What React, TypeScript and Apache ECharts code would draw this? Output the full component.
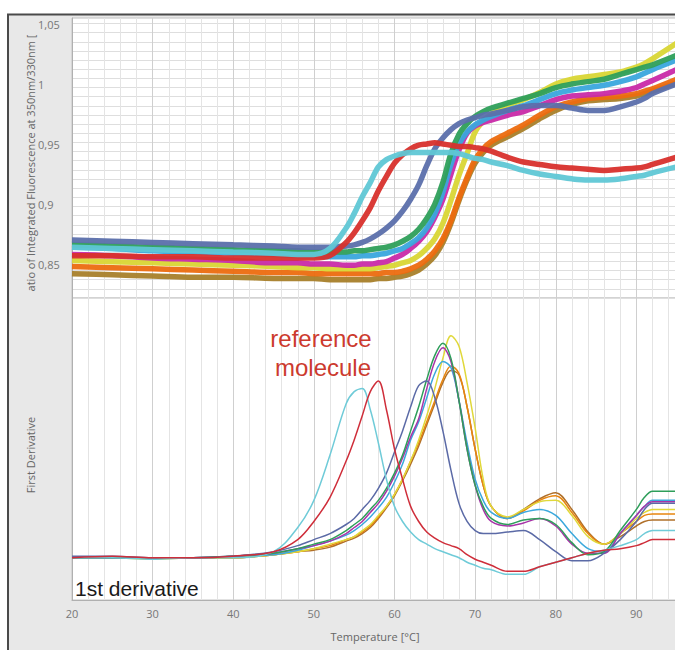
import React, { useEffect, useRef } from 'react';
import * as echarts from 'echarts';

// Temperatures (°C) shared by both panels
const temps = [20, 25, 30, 35, 40, 45, 48, 50, 52, 54, 55, 56, 57, 58, 59, 60, 61, 62, 63, 64, 65, 66, 67, 68, 69, 70, 71, 72, 74, 76, 78, 80, 82, 84, 86, 88, 90, 91, 92, 95];

// Ratio 350/330 (top panel)
const ratioCyan = [0.864, 0.863, 0.862, 0.861, 0.860, 0.859, 0.858, 0.858, 0.863, 0.880, 0.892, 0.906, 0.918, 0.931, 0.937, 0.940, 0.942, 0.943, 0.943, 0.943, 0.943, 0.943, 0.943, 0.942, 0.940, 0.938, 0.937, 0.935, 0.932, 0.928, 0.925, 0.923, 0.921, 0.920, 0.920, 0.921, 0.923, 0.924, 0.926, 0.931];
const ratioRed = [0.857, 0.857, 0.856, 0.856, 0.855, 0.855, 0.855, 0.855, 0.857, 0.868, 0.876, 0.886, 0.897, 0.911, 0.923, 0.934, 0.941, 0.946, 0.949, 0.950, 0.951, 0.950, 0.949, 0.948, 0.948, 0.947, 0.946, 0.944, 0.939, 0.935, 0.933, 0.931, 0.930, 0.929, 0.928, 0.929, 0.930, 0.931, 0.933, 0.939];
const ratioBlueGray = [0.870, 0.869, 0.868, 0.867, 0.866, 0.865, 0.864, 0.864, 0.864, 0.865, 0.866, 0.868, 0.871, 0.875, 0.880, 0.886, 0.894, 0.904, 0.916, 0.932, 0.946, 0.955, 0.962, 0.967, 0.970, 0.972, 0.974, 0.975, 0.978, 0.981, 0.982, 0.982, 0.980, 0.978, 0.978, 0.981, 0.985, 0.988, 0.992, 1.000];
const ratioGreen = [0.866, 0.865, 0.864, 0.863, 0.862, 0.861, 0.861, 0.860, 0.860, 0.860, 0.861, 0.861, 0.862, 0.863, 0.864, 0.866, 0.869, 0.873, 0.879, 0.888, 0.900, 0.918, 0.942, 0.958, 0.967, 0.973, 0.977, 0.980, 0.984, 0.988, 0.992, 0.997, 1.000, 1.002, 1.004, 1.008, 1.012, 1.014, 1.016, 1.024];
const ratioLightBlue = [0.864, 0.863, 0.861, 0.860, 0.859, 0.858, 0.857, 0.857, 0.856, 0.856, 0.856, 0.857, 0.857, 0.858, 0.859, 0.861, 0.863, 0.867, 0.872, 0.880, 0.892, 0.910, 0.933, 0.950, 0.960, 0.966, 0.970, 0.973, 0.978, 0.982, 0.987, 0.992, 0.995, 0.997, 0.999, 1.002, 1.006, 1.009, 1.012, 1.020];
const ratioMagenta = [0.858, 0.857, 0.855, 0.854, 0.853, 0.851, 0.851, 0.850, 0.850, 0.849, 0.849, 0.850, 0.850, 0.851, 0.852, 0.855, 0.858, 0.863, 0.869, 0.877, 0.889, 0.904, 0.925, 0.945, 0.959, 0.965, 0.968, 0.970, 0.974, 0.977, 0.982, 0.987, 0.990, 0.991, 0.992, 0.994, 0.997, 1.000, 1.003, 1.012];
const ratioYellow = [0.853, 0.852, 0.851, 0.850, 0.849, 0.848, 0.847, 0.847, 0.846, 0.846, 0.846, 0.846, 0.846, 0.847, 0.848, 0.849, 0.851, 0.853, 0.857, 0.863, 0.871, 0.884, 0.903, 0.924, 0.942, 0.960, 0.969, 0.975, 0.982, 0.987, 0.993, 1.000, 1.004, 1.006, 1.008, 1.010, 1.014, 1.017, 1.021, 1.034];
const ratioOrange = [0.848, 0.847, 0.846, 0.845, 0.844, 0.843, 0.843, 0.842, 0.842, 0.842, 0.842, 0.842, 0.842, 0.842, 0.843, 0.843, 0.844, 0.846, 0.849, 0.854, 0.861, 0.871, 0.886, 0.905, 0.922, 0.937, 0.946, 0.952, 0.959, 0.966, 0.974, 0.981, 0.985, 0.988, 0.989, 0.990, 0.992, 0.994, 0.996, 1.004];
const ratioBrown = [0.842, 0.841, 0.840, 0.839, 0.839, 0.838, 0.838, 0.838, 0.837, 0.837, 0.837, 0.837, 0.837, 0.838, 0.838, 0.839, 0.840, 0.842, 0.845, 0.850, 0.857, 0.868, 0.884, 0.903, 0.920, 0.934, 0.943, 0.949, 0.956, 0.963, 0.971, 0.978, 0.983, 0.986, 0.987, 0.988, 0.990, 0.992, 0.994, 1.001];

// First derivative (bottom panel, arbitrary units)
const derivCyan = [14, 14, 13.5, 14, 14, 16, 24, 33, 48, 65, 69, 70, 63, 52, 40, 31, 26, 22.5, 20, 18.5, 17, 16, 15, 14, 12.5, 11.5, 10.5, 10, 8.5, 8.5, 11, 12.5, 14, 15.5, 16.5, 18, 20, 22, 23, 23];
const derivRed = [14, 14.5, 14, 14, 14.5, 16, 20, 26, 34, 46, 53, 61, 69, 72.5, 63, 50, 40, 31, 26, 22.5, 20.5, 19, 18, 17, 15, 13.5, 12.5, 11.5, 9.5, 9.5, 11, 12.5, 14, 15.5, 16.5, 17, 18, 19, 20, 20];
const derivBlueGray = [14.5, 14.5, 14, 14, 14.5, 16, 18, 20, 22, 25, 27, 30, 33, 37, 42, 49, 56, 64, 71, 72.5, 67, 56, 43, 32, 26, 23, 22, 22, 22.5, 23, 20, 16, 13, 13, 15.5, 20, 26, 30, 32, 32];
const derivGreen = [14, 14, 14, 14, 14.5, 15.5, 17, 18.5, 20, 23, 25, 27, 30, 33, 37, 42, 48, 56, 64, 73, 81, 85, 80, 66, 50, 38, 31, 27, 25, 26.5, 27, 25, 19, 15, 16, 23, 30, 34, 36, 36];
const derivLightBlue = [14, 14, 14, 14, 14.5, 15, 16.5, 18, 19.5, 21.5, 23, 25, 27.5, 30.5, 34, 39, 45, 53, 59, 67, 75, 79, 77, 66, 52, 40, 33, 29, 27, 29, 30, 28, 22, 17, 16, 22, 28, 31, 33, 33];
const derivMagenta = [14, 14, 14, 14, 14.5, 15.5, 17, 18, 19.5, 22, 24, 26, 29, 32, 36, 41, 47, 54, 60, 70, 79, 83.5, 79, 66, 50, 38, 30, 26, 24.5, 25.5, 27, 24.5, 18.5, 15.5, 15.5, 22, 28, 31, 32.5, 32.5];
const derivYellow = [14, 14, 13.5, 14, 14, 15, 16, 17, 18.5, 20, 21, 23, 25, 28, 31, 35, 40, 46, 53, 61, 70, 80, 87.5, 84, 72, 57, 40, 31, 27.5, 30, 32.5, 33, 28, 21, 18.5, 22, 27, 29, 30, 30];
const derivOrange = [14, 14, 14, 14, 14, 15, 16, 17, 18, 20, 21, 22.5, 24.5, 27.5, 31, 35, 40, 46, 52, 59, 66, 73, 77.5, 75, 64, 50, 38, 31, 27, 29.5, 33, 34.5, 29, 22, 18.5, 22, 26, 28, 28.5, 28.5];
const derivBrown = [14, 14, 14, 14, 14, 15, 16, 16.5, 17.5, 19.5, 20.5, 22, 24, 27, 30.5, 34.5, 39.5, 45, 51, 58, 65, 72, 76, 74.5, 64, 50, 38, 31, 27, 30, 33.5, 35.5, 30, 22.5, 18.5, 21, 24.5, 26, 26.5, 26.5];

const xTicks = [20, 30, 40, 50, 60, 70, 80, 90];

const topSeries = [
  { name: 'brown', data: ratioBrown, color: '#a8802a' },
  { name: 'orange', data: ratioOrange, color: '#ec6b0f' },
  { name: 'yellow', data: ratioYellow, color: '#d9d635' },
  { name: 'magenta', data: ratioMagenta, color: '#c92aa8' },
  { name: 'lightBlue', data: ratioLightBlue, color: '#3aa6dd' },
  { name: 'green', data: ratioGreen, color: '#2e9f5a' },
  { name: 'blueGray', data: ratioBlueGray, color: '#5b6fab' },
  { name: 'red', data: ratioRed, color: '#d8302c' },
  { name: 'cyan', data: ratioCyan, color: '#5fc7d5' },
];

const bottomSeries = [
  { name: 'brown', data: derivBrown, color: '#b0702a' },
  { name: 'orange', data: derivOrange, color: '#e8860f' },
  { name: 'yellow', data: derivYellow, color: '#e0d83a' },
  { name: 'lightBlue', data: derivLightBlue, color: '#3ba8dc' },
  { name: 'magenta', data: derivMagenta, color: '#a834a8' },
  { name: 'green', data: derivGreen, color: '#2e9e5a' },
  { name: 'blueGray', data: derivBlueGray, color: '#5b6aa6' },
  { name: 'cyan', data: derivCyan, color: '#6fcbd8' },
  { name: 'red', data: derivRed, color: '#cf2e3a' },
];

export default function App() {
  const ref = useRef<HTMLDivElement>(null);
  useEffect(() => {
    const chart = echarts.init(ref.current as HTMLDivElement, null, { renderer: 'svg' });
    const labelFont = { color: '#777', fontSize: 11, fontFamily: '"Open Sans", sans-serif' };
    const vGrid = {
      splitLine: { show: true, lineStyle: { color: '#cfcfcf', width: 1 } },
      minorTick: { show: false, splitNumber: 5 },
      minorSplitLine: { show: true, lineStyle: { color: '#e4e4e4', width: 1 } },
    };
    const series: any[] = [];
    topSeries.forEach((s) => {
      series.push({
        type: 'line', name: 'r-' + s.name, xAxisIndex: 0, yAxisIndex: 0,
        data: temps.map((t, i) => [t, s.data[i]]),
        showSymbol: false, smooth: 0.35,
        lineStyle: { width: 5.5, color: s.color, opacity: 0.95 },
      });
    });
    bottomSeries.forEach((s) => {
      series.push({
        type: 'line', name: 'd-' + s.name, xAxisIndex: 1, yAxisIndex: 2,
        data: temps.map((t, i) => [t, s.data[i]]),
        showSymbol: false, smooth: 0.35,
        lineStyle: { width: 1.5, color: s.color },
      });
    });
    const option: any = {
      animation: false,
      backgroundColor: '#e8e8e8',
      grid: [
        { left: 72, top: 18, width: 645, height: 280, show: true, backgroundColor: '#ffffff', borderColor: '#c4c4c4', borderWidth: 1 },
        { left: 72, top: 298, width: 645, height: 302, show: true, backgroundColor: '#ffffff', borderColor: '#c4c4c4', borderWidth: 1 },
      ],
      xAxis: [
        {
          gridIndex: 0, type: 'value', min: 20, max: 100, interval: 10,
          axisLabel: { show: false }, axisLine: { show: false }, axisTick: { show: false }, ...vGrid,
        },
        {
          gridIndex: 1, type: 'value', min: 20, max: 100, interval: 10,
          axisLabel: { ...labelFont, margin: 8, formatter: (v: number) => (xTicks.includes(v) ? String(v) : '') },
          axisLine: { show: true, lineStyle: { color: '#b0b0b0' } }, axisTick: { show: false }, ...vGrid,
        },
      ],
      yAxis: [
        {
          gridIndex: 0, type: 'value', min: 0.8217, max: 1.055, splitNumber: 5,
          axisLine: { show: true, lineStyle: { color: '#b0b0b0' } }, axisTick: { show: false },
          splitLine: { show: false },
          axisLabel: {
            ...labelFont, align: 'left', margin: 34,
            formatter: (v: number) => {
              const r = Math.round(v * 20);
              if (Math.abs(v * 20 - r) > 1e-6) return '';
              return String(+(r / 20).toFixed(2)).replace('.', ',');
            },
          },
        },
        {
          gridIndex: 0, type: 'value', min: 0, max: 30.6, interval: 1, position: 'left',
          axisLine: { show: false }, axisTick: { show: false }, axisLabel: { show: false },
          splitLine: { show: true, lineStyle: { color: '#dedede', width: 1 } },
        },
        {
          gridIndex: 1, type: 'value', min: 0, max: 100,
          axisLine: { show: true, lineStyle: { color: '#b0b0b0' } }, axisTick: { show: false },
          axisLabel: { show: false }, splitLine: { show: false },
        },
      ],
      series,
      graphic: [
        { type: 'rect', z: 50, shape: { x: 0, y: 0, width: 720, height: 14 }, style: { fill: '#ffffff' } },
        { type: 'rect', z: 50, shape: { x: 0, y: 0, width: 7, height: 650 }, style: { fill: '#ffffff' } },
        { type: 'line', z: 51, shape: { x1: 7, y1: 14.5, x2: 720, y2: 14.5 }, style: { stroke: '#4a4a4a', lineWidth: 2 } },
        { type: 'line', z: 51, shape: { x1: 8, y1: 14, x2: 8, y2: 650 }, style: { stroke: '#4a4a4a', lineWidth: 2 } },
        {
          type: 'text', z: 100, x: 30, y: 163, rotation: Math.PI / 2,
          style: { text: 'atio of Integrated Fluorescence at 350nm/330nm [', fill: '#666', font: '11px "Open Sans", sans-serif', align: 'center', verticalAlign: 'middle' },
        },
        {
          type: 'text', z: 100, x: 30, y: 455, rotation: Math.PI / 2,
          style: { text: 'First Derivative', fill: '#666', font: '11px "Open Sans", sans-serif', align: 'center', verticalAlign: 'middle' },
        },
        {
          type: 'text', z: 100, x: 375, y: 636,
          style: { text: 'Temperature [°C]', fill: '#666', font: '11px "Open Sans", sans-serif', align: 'center', verticalAlign: 'middle' },
        },
        {
          type: 'text', z: 100, x: 321, y: 338,
          style: { text: 'reference', fill: '#cc3a2e', font: '24px "Liberation Sans", Arial, sans-serif', align: 'center', verticalAlign: 'middle' },
        },
        {
          type: 'text', z: 100, x: 323, y: 367,
          style: { text: 'molecule', fill: '#cc3a2e', font: '24px "Liberation Sans", Arial, sans-serif', align: 'center', verticalAlign: 'middle' },
        },
        {
          type: 'text', z: 100, x: 75, y: 588,
          style: { text: '1st derivative', fill: '#1a1a1a', font: '21px "Liberation Sans", Arial, sans-serif', align: 'left', verticalAlign: 'middle' },
        },
      ],
    };
    chart.setOption(option);
    return () => chart.dispose();
  }, []);
  return (
    <div style={{ position: 'fixed', left: 0, top: 0, width: 675, height: 650, overflow: 'hidden', background: '#fff' }}>
      <div ref={ref} style={{ width: 720, height: 650 }} />
    </div>
  );
}
